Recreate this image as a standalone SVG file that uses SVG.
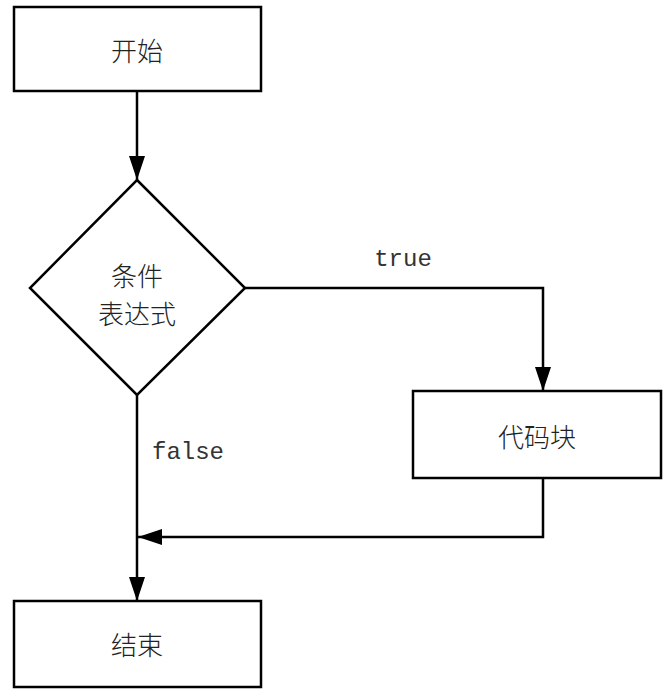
<svg xmlns="http://www.w3.org/2000/svg" width="671" height="699" viewBox="0 0 671 699">
<style>
.n{fill:#fff;stroke:#000;stroke-width:2.5}
.t{font-family:"Noto Sans CJK SC","Noto Sans",sans-serif;font-size:26px;font-weight:300;fill:#222;text-anchor:middle;dominant-baseline:central}
.c{fill:none;stroke:#000;stroke-width:2.5}
.l{font-family:"Liberation Mono","DejaVu Sans Mono",monospace;font-size:24px;fill:#333}
</style>
<defs>
<marker id="ah" viewBox="0 0 24 16" refX="24" refY="8" markerWidth="24" markerHeight="16" markerUnits="userSpaceOnUse" orient="auto">
<path d="M0,0 L24,8 L0,16 Z" fill="#000"/>
</marker>
</defs>
<rect width="671" height="699" fill="#fff"/>
<g id="connectors">
<path class="c" d="M137,91 V180" marker-end="url(#ah)"/>
<path class="c" d="M245,288 H543 V391" marker-end="url(#ah)"/>
<path class="c" d="M543,478 V537 H138" marker-end="url(#ah)"/>
<path class="c" d="M137,395 V601" marker-end="url(#ah)"/>
<text class="l" x="403" y="266" text-anchor="middle">true</text>
<text class="l" x="152" y="459">false</text>
</g>
<g id="start">
<rect class="n" x="14" y="7" width="247" height="84"/>
<text class="t" x="137" y="49">开始</text>
</g>
<g id="cond">
<polygon class="n" points="137,180 245,288 137,395 30,288"/>
<text class="t" x="137" y="274">条件</text>
<text class="t" x="137" y="312">表达式</text>
</g>
<g id="code">
<rect class="n" x="413" y="391" width="248" height="87"/>
<text class="t" x="537" y="435">代码块</text>
</g>
<g id="end">
<rect class="n" x="14" y="601" width="247" height="86"/>
<text class="t" x="137" y="643">结束</text>
</g>
</svg>
